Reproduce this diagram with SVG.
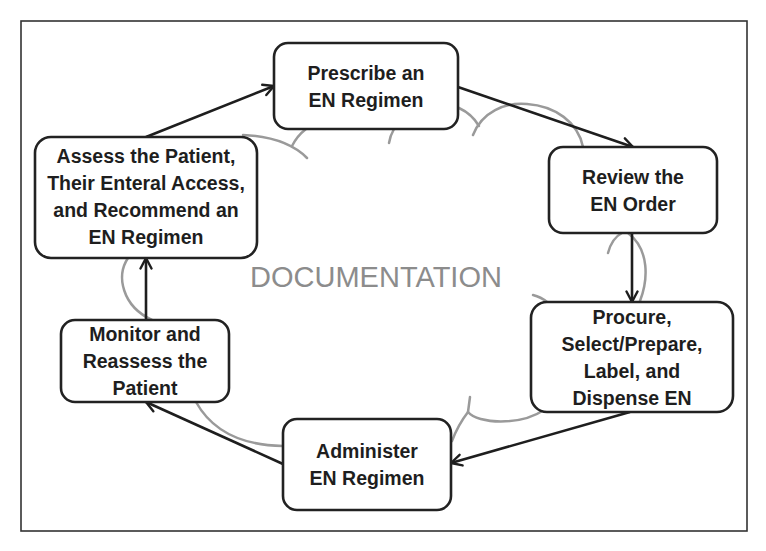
<svg xmlns="http://www.w3.org/2000/svg" width="766" height="551" viewBox="0 0 766 551">
<defs>
<style>
.frame{fill:#fff;stroke:#333;stroke-width:1.6}
.cloud{fill:none;stroke:#9a9a9a;stroke-width:2.5;stroke-linecap:round}
.box{fill:#fff;stroke:#222;stroke-width:2.6}
.lbl{font-family:"Liberation Sans",Arial,sans-serif;font-weight:bold;font-size:19.5px;fill:#1e1e1e;text-anchor:middle}
.doc{font-family:"Liberation Sans",Arial,sans-serif;font-size:29px;fill:#8c8c8c;text-anchor:middle}
.conn{fill:none;stroke:#1e1e1e;stroke-width:2.6;marker-end:url(#ah)}
</style>
<marker id="ah" markerUnits="userSpaceOnUse" viewBox="0 0 14 14" refX="12.5" refY="7" markerWidth="14" markerHeight="14" orient="auto">
<path d="M2,1.5 L12.5,7 L2,12.5" fill="none" stroke="#1e1e1e" stroke-width="2.4" stroke-linecap="round" stroke-linejoin="round"/>
</marker>
</defs>
<rect class="frame" x="21" y="21" width="726" height="510"/>
<g id="cloud">
<path class="cloud" d="M243,135 Q286,137 307,158"/>
<path class="cloud" d="M292,146 Q297,136 306,129"/>
<path class="cloud" d="M389,143 Q390,136 394,129"/>
<path class="cloud" d="M459,108 Q472,114 479,126"/>
<path class="cloud" d="M473,135 C482,112 505,102 527,104 C555,106 578,122 583,147"/>
<path class="cloud" d="M608,253 Q612,238 622,233"/>
<path class="cloud" d="M628,233 C650,250 648,280 640,301"/>
<path class="cloud" d="M128,258 C116,276 122,306 152,320"/>
<path class="cloud" d="M196,402 Q220,445 283,446"/>
<path class="cloud" d="M470,397 L468,412"/>
<path class="cloud" d="M452,441 Q458,425 468,412 C478,424 520,426 544,410"/>
<path class="cloud" d="M533,295 Q541,297 547,302"/>
</g>
<text class="doc" x="376" y="287">DOCUMENTATION</text>
<g id="connectors">
<path class="conn" d="M146,137 L274,86"/>
<path class="conn" d="M458,87 L633,147"/>
<path class="conn" d="M632,233 L632,302"/>
<path class="conn" d="M630,412 L451,463"/>
<path class="conn" d="M283,464 L146,402"/>
<path class="conn" d="M146,320 L146,258"/>
</g>
<g id="prescribe">
<rect class="box" x="274" y="43" width="184" height="86" rx="14"/>
<text class="lbl" x="366" y="80">Prescribe an</text>
<text class="lbl" x="366" y="107">EN Regimen</text>
</g>
<g id="review">
<rect class="box" x="549" y="147" width="168" height="86" rx="14"/>
<text class="lbl" x="633" y="184">Review the</text>
<text class="lbl" x="633" y="211">EN Order</text>
</g>
<g id="procure">
<rect class="box" x="531" y="302" width="202" height="110" rx="16"/>
<text class="lbl" x="632" y="324">Procure,</text>
<text class="lbl" x="632" y="351">Select/Prepare,</text>
<text class="lbl" x="632" y="378">Label, and</text>
<text class="lbl" x="632" y="405">Dispense EN</text>
</g>
<g id="administer">
<rect class="box" x="283" y="419" width="168" height="91" rx="14"/>
<text class="lbl" x="367" y="458">Administer</text>
<text class="lbl" x="367" y="485">EN Regimen</text>
</g>
<g id="monitor">
<rect class="box" x="61" y="320" width="168" height="82" rx="14"/>
<text class="lbl" x="145" y="341">Monitor and</text>
<text class="lbl" x="145" y="368">Reassess the</text>
<text class="lbl" x="145" y="395">Patient</text>
</g>
<g id="assess">
<rect class="box" x="35" y="137" width="222" height="121" rx="16"/>
<text class="lbl" x="146" y="163">Assess the Patient,</text>
<text class="lbl" x="146" y="190">Their Enteral Access,</text>
<text class="lbl" x="146" y="217">and Recommend an</text>
<text class="lbl" x="146" y="244">EN Regimen</text>
</g>
</svg>
